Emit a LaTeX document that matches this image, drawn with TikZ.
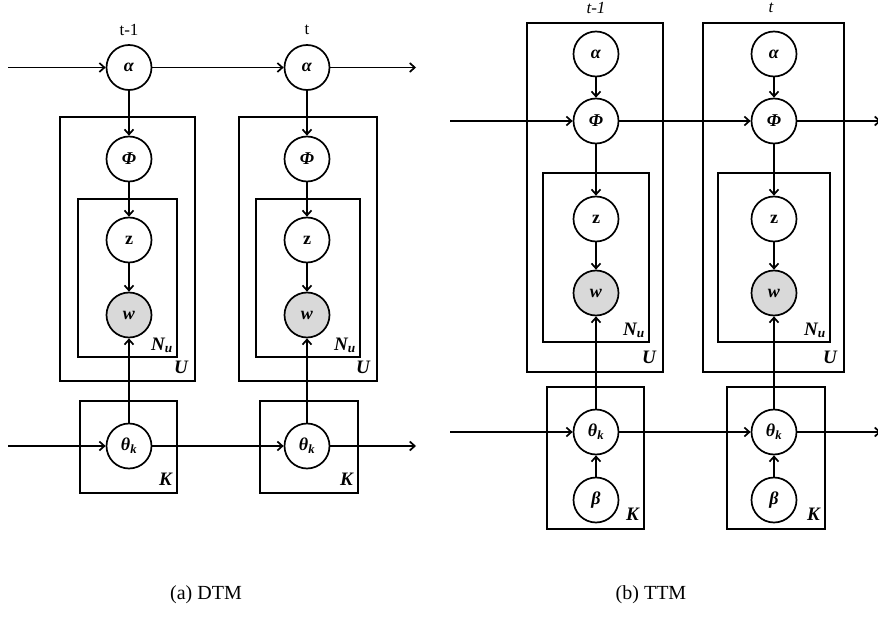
\documentclass[tikz,border=0pt]{standalone}
\usepackage{fontspec}
\setmainfont{Liberation Serif}
\usetikzlibrary{arrows.meta,positioning}
\newcommand{\bi}[1]{\textbf{\textit{#1}}}
\tikzset{
  var/.style={circle, draw, line width=1.7pt, minimum size=45pt, inner sep=0pt,
    fill=white, font=\fontsize{18}{20}\selectfont},
  obs/.style={var, fill=gray!30},
  plate/.style={draw, line width=1.7pt},
  platelab/.style={anchor=base east, inner sep=0pt,
    font=\fontsize{19}{21}\selectfont\bfseries\itshape},
  timelab/.style={font=\fontsize{17}{19}\selectfont},
  caption/.style={font=\fontsize{20}{22}\selectfont},
  link/.style={line width=1.7pt, -{Straight Barb[length=5pt,width=9pt]}}
}
\begin{document}
\begin{tikzpicture}[x=1pt,y=-1pt]
  \useasboundingbox (0,0) rectangle (878,623);

  % (a) DTM
  \draw[plate] (60,117) rectangle (195,381);
  \draw[plate] (78,199) rectangle (177,357);
  \draw[plate] (80,401) rectangle (177,493);
  \draw[plate] (239,117) rectangle (377,381);
  \draw[plate] (256,199) rectangle (360,357);
  \draw[plate] (260,401) rectangle (358,493);

  \node[timelab] (ta1) at (129,30) {t-1};
  \node[timelab] (ta2) at (307,30) {t};

  \node[var] (da1) at (129,67.5) {\bi{α}};
  \node[var] (dp1) at (129,159) {\bi{Φ}};
  \node[var] (dz1) at (129,240) {\textbf{z}};
  \node[obs] (dw1) at (129,315) {\bi{w}};
  \node[var] (dt1) at (129,446) {\bi{θ}\textsubscript{\bi{k}}};

  \node[var] (da2) at (307,67.5) {\bi{α}};
  \node[var] (dp2) at (307,159) {\bi{Φ}};
  \node[var] (dz2) at (307,240) {\textbf{z}};
  \node[obs] (dw2) at (307,315) {\bi{w}};
  \node[var] (dt2) at (307,446) {\bi{θ}\textsubscript{\bi{k}}};

  \node[platelab] (dn1) at (173,350) {N\textsubscript{u}};
  \node[platelab] (du1) at (188,373) {U};
  \node[platelab] (dk1) at (172,485) {K};
  \node[platelab] (dn2) at (356,350) {N\textsubscript{u}};
  \node[platelab] (du2) at (370,373) {U};
  \node[platelab] (dk2) at (353,485) {K};

  \coordinate (dain) at (8,67.5);
  \coordinate (daout) at (416,67.5);
  \coordinate (dtin) at (8,446);
  \coordinate (dtout) at (416,446);

  \draw[link] (dain) -- (da1);
  \draw[link] (da1) -- (da2);
  \draw[link] (da2) -- (daout);
  \draw[link] (dtin) -- (dt1);
  \draw[link] (dt1) -- (dt2);
  \draw[link] (dt2) -- (dtout);
  \foreach \i in {1,2} {
    \draw[link] (da\i) -- (dp\i);
    \draw[link] (dp\i) -- (dz\i);
    \draw[link] (dz\i) -- (dw\i);
    \draw[link] (dt\i) -- (dw\i);
  }

  % (b) TTM
  \draw[plate] (527,23) rectangle (663,372);
  \draw[plate] (543,173) rectangle (649,342);
  \draw[plate] (547,387) rectangle (644,529);
  \draw[plate] (703,23) rectangle (844,372);
  \draw[plate] (718,173) rectangle (830,342);
  \draw[plate] (727,387) rectangle (825,529);

  \node[timelab, font=\fontsize{17}{19}\selectfont\itshape] (tb1) at (596,8) {t-1};
  \node[timelab, font=\fontsize{17}{19}\selectfont\itshape] (tb2) at (771,8) {t};

  \node[var] (ta1) at (596,54) {\bi{α}};
  \node[var] (tp1) at (596,121) {\bi{Φ}};
  \node[var] (tz1) at (596,219) {\textbf{z}};
  \node[obs] (tw1) at (596,293) {\bi{w}};
  \node[var] (tt1) at (596,432) {\bi{θ}\textsubscript{\bi{k}}};
  \node[var] (tb1) at (596,500) {\bi{β}};

  \node[var] (ta2) at (774,54) {\bi{α}};
  \node[var] (tp2) at (774,121) {\bi{Φ}};
  \node[var] (tz2) at (774,219) {\textbf{z}};
  \node[obs] (tw2) at (774,293) {\bi{w}};
  \node[var] (tt2) at (774,432) {\bi{θ}\textsubscript{\bi{k}}};
  \node[var] (tb2) at (774,500) {\bi{β}};

  \node[platelab] (tn1) at (645,335) {N\textsubscript{u}};
  \node[platelab] (tu1) at (656,363) {U};
  \node[platelab] (tk1) at (639,520) {K};
  \node[platelab] (tn2) at (826,335) {N\textsubscript{u}};
  \node[platelab] (tu2) at (837,363) {U};
  \node[platelab] (tk2) at (820,520) {K};

  \coordinate (tpin) at (450,121);
  \coordinate (tpout) at (881,121);
  \coordinate (ttin) at (450,432);
  \coordinate (ttout) at (881,432);

  \draw[link] (tpin) -- (tp1);
  \draw[link] (tp1) -- (tp2);
  \draw[link] (tp2) -- (tpout);
  \draw[link] (ttin) -- (tt1);
  \draw[link] (tt1) -- (tt2);
  \draw[link] (tt2) -- (ttout);
  \foreach \i in {1,2} {
    \draw[link] (ta\i) -- (tp\i);
    \draw[link] (tp\i) -- (tz\i);
    \draw[link] (tz\i) -- (tw\i);
    \draw[link] (tt\i) -- (tw\i);
    \draw[link] (tb\i) -- (tt\i);
  }

  \node[caption] (capa) at (206,595) {(a) DTM};
  \node[caption] (capb) at (651,595) {(b) TTM};
\end{tikzpicture}
\end{document}
